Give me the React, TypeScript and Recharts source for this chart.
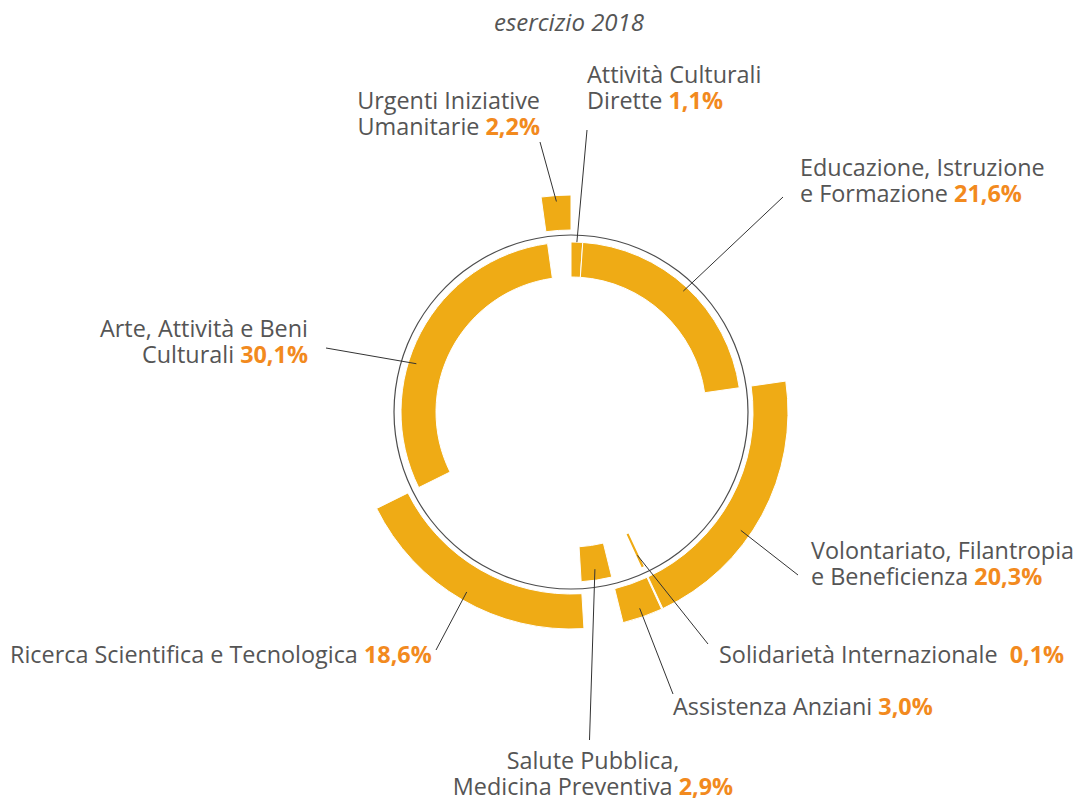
import { PieChart, Pie, Cell } from 'recharts';

// clockwise from 12 o'clock
const categories = [
  'Attività Culturali\nDirette',
  'Educazione, Istruzione\ne Formazione',
  'Volontariato, Filantropia\ne Beneficienza',
  'Solidarietà Internazionale',
  'Assistenza Anziani',
  'Salute Pubblica,\nMedicina Preventiva',
  'Ricerca Scientifica e Tecnologica',
  'Arte, Attività e Beni\nCulturali',
  'Urgenti Iniziative\nUmanitarie',
];
const shares = [1.1, 21.6, 20.3, 0.1, 3.0, 2.9, 18.6, 30.1, 2.2];
const rings = ['inner', 'inner', 'outer', 'inner', 'outer', 'inner', 'outer', 'inner', 'outer'];
const title = 'esercizio 2018';
const guideCircle = [{ name: 'guide', value: 1 }];

const data = categories.map((name, i) => ({ name, value: shares[i], ring: rings[i] }));

// label placement: text baseline (x, y), leader end (ex, ey), leader start radius, angle nudge (clockwise deg)
const labelLayout = [
  { x: 587, y: 83, anchor: 'start', ex: 587, ey: 130, r: 170, shift: 0, gap: 0 },
  { x: 800, y: 176, anchor: 'start', ex: 783, ey: 197, r: 165, shift: 0, gap: 0 },
  { x: 811, y: 559, anchor: 'start', ex: 798, ey: 575, r: 207, shift: 6.5, gap: 0 },
  { x: 719, y: 663, anchor: 'start', ex: 708, ey: 644, r: 158, shift: 0, gap: 6 },
  { x: 673, y: 715, anchor: 'start', ex: 673, ey: 694, r: 208, shift: 0, gap: 0 },
  { x: 593, y: 769, anchor: 'middle', ex: 589.5, ey: 740, r: 159, shift: 0, gap: 0 },
  { x: 10, y: 663, anchor: 'start', ex: 436, ey: 650, r: 208, shift: 0, gap: 0 },
  { x: 308, y: 337, anchor: 'end', ex: 326, ey: 348, r: 162, shift: -10.5, gap: 0 },
  { x: 540, y: 109, anchor: 'end', ex: 540, ey: 142, r: 211, shift: 0, gap: 0 },
];

const SEG = '#EFAB15';
const PCT = '#F28A1E';
const TXT = '#555555';
const FONT = '"Open Sans", "Noto Sans", sans-serif';
const RAD = Math.PI / 180;

const fmt = (v: number) => v.toFixed(1).replace('.', ',') + '%';

function makeLabel(ring: string) {
  return (props: any) => {
    const { cx, cy, midAngle, index } = props;
    if (rings[index] !== ring) return null;
    const lay = labelLayout[index];
    const a = midAngle - lay.shift;
    const sx = cx + lay.r * Math.cos(-a * RAD);
    const sy = cy + lay.r * Math.sin(-a * RAD);
    const lines = categories[index].split('\n');
    return (
      <g key={`lbl-${index}`}>
        <line x1={sx} y1={sy} x2={lay.ex} y2={lay.ey} stroke="#333" strokeWidth={1} />
        <text x={lay.x} y={lay.y} textAnchor={lay.anchor} fontFamily={FONT} fontSize={23.4} fill={TXT}>
          {lines.map((line, i) => (
            <tspan key={i} x={lay.x} dy={i === 0 ? 0 : 26}>
              {line}
              {i === lines.length - 1 ? ' ' : ''}
              {i === lines.length - 1 && (
                <tspan fontWeight={700} fill={PCT} dx={lay.gap}>
                  {fmt(shares[index])}
                </tspan>
              )}
            </tspan>
          ))}
        </text>
      </g>
    );
  };
}

export default function App() {
  return (
    <div style={{ position: 'absolute', left: 0, top: 0, width: 1075, height: 802, background: '#fff' }}>
      <PieChart width={1075} height={802} margin={{ top: 0, right: 0, bottom: 0, left: 0 }}>
        <text x={569} y={31} textAnchor="middle" fontFamily={FONT} fontStyle="italic" fontSize={24} fill={TXT}>
          {title}
        </text>
        <Pie
          data={guideCircle}
          dataKey="value"
          cx={571}
          cy={412}
          innerRadius={176.4}
          outerRadius={177.6}
          startAngle={90}
          endAngle={-270}
          isAnimationActive={false}
          fill="#4d4d4d"
          stroke="none"
        />
        <Pie
          data={data}
          dataKey="value"
          cx={571}
          cy={412}
          innerRadius={182}
          outerRadius={217}
          startAngle={90}
          endAngle={-270}
          paddingAngle={0}
          isAnimationActive={false}
          labelLine={false}
          label={makeLabel('outer')}
        >
          {data.map((d, i) => (
            <Cell
              key={`out-${i}`}
              fill={d.ring === 'outer' ? SEG : 'none'}
              stroke={d.ring === 'outer' ? '#fff' : 'none'}
              strokeWidth={1}
            />
          ))}
        </Pie>
        <Pie
          data={data}
          dataKey="value"
          cx={571}
          cy={412}
          innerRadius={135}
          outerRadius={170}
          startAngle={90}
          endAngle={-270}
          paddingAngle={0}
          isAnimationActive={false}
          labelLine={false}
          label={makeLabel('inner')}
        >
          {data.map((d, i) => (
            <Cell
              key={`in-${i}`}
              fill={d.ring === 'inner' ? SEG : 'none'}
              stroke={d.ring === 'inner' ? (d.value < 0.5 ? SEG : '#fff') : 'none'}
              strokeWidth={d.value < 0.5 ? 1.2 : 1}
            />
          ))}
        </Pie>
      </PieChart>
    </div>
  );
}
